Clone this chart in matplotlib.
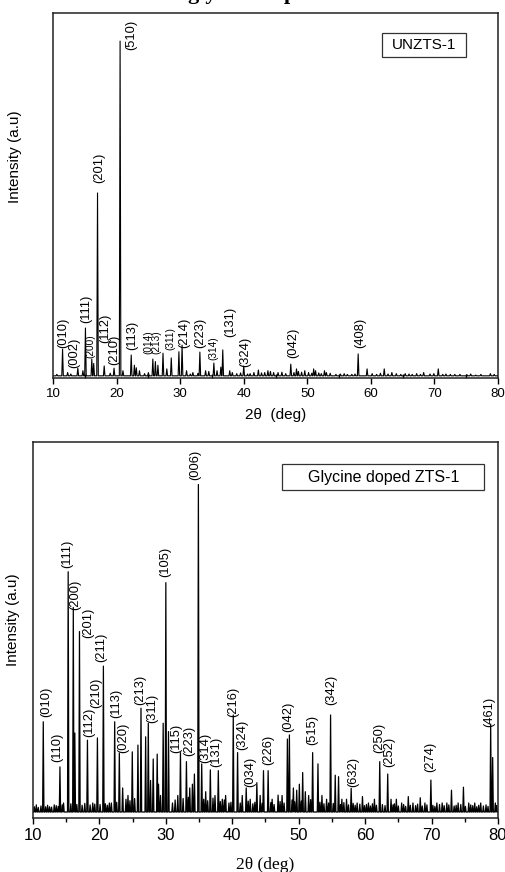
import numpy as np
import matplotlib.pyplot as plt
from matplotlib.patches import Rectangle

plt.rcParams['font.family'] = ['Liberation Sans', 'DejaVu Sans']

# ---- UNZTS-1 pattern: strong reflections (2theta, rel. intensity)
unzts_pos = [11.5, 13.9, 15.1, 16.1, 16.4, 17.0, 18.05, 19.6, 20.55, 22.3,
             22.8, 23.1, 25.7, 26.1, 26.5, 27.3, 27.9, 28.6, 29.8, 30.3,
             33.1, 35.3, 36.4, 36.7, 40.0, 47.4, 48.3, 58.0]
unzts_int = [7.9, 2.7, 13.7, 5.2, 4.0, 50.7, 3.3, 2.7, 92.3, 6.3,
             3.5, 2.8, 5.2, 4.5, 3.5, 6.8, 2.5, 5.5, 7.2, 9.0,
             7.1, 4.1, 3.0, 7.7, 3.3, 3.8, 2.5, 6.6]
# weak reflections and baseline ripple
unzts_minor_pos = [12.3, 14.7, 21.0, 23.6, 25.0, 31.0, 32.0, 34.0, 34.5, 35.8,
                   37.8, 38.2, 41.0, 42.3, 43.3, 43.8, 44.2, 44.7, 45.4, 48.6,
                   49.6, 50.2, 51.0, 51.3, 52.7, 53.0, 54.5, 56.3, 59.4, 62.1,
                   63.3, 64.0, 66.5, 67.2, 68.3, 70.6, 72.5, 74.0, 76.5, 78.8,
                   10.6, 12.8, 19.0, 24.4, 31.6, 32.8, 38.9, 39.5, 40.6, 41.6,
                   42.8, 46.0, 46.6, 47.9, 49.1, 50.7, 51.8, 52.2, 53.6, 55.2,
                   55.8, 57.0, 57.5, 60.2, 60.9, 61.5, 62.7, 64.7, 65.4, 66.0,
                   67.8, 69.3, 69.9, 71.3, 71.8, 73.2, 75.1, 75.7, 77.3, 79.4]
unzts_minor_int = [1.5, 2.0, 2.0, 2.0, 1.5, 2.0, 1.5, 2.0, 1.8, 2.0,
                   2.0, 1.5, 1.2, 2.2, 1.5, 2.0, 1.8, 1.5, 1.5, 1.8,
                   2.0, 1.5, 2.5, 2.0, 2.0, 1.5, 1.0, 1.0, 2.5, 2.5,
                   1.5, 1.2, 1.0, 1.2, 1.5, 2.5, 1.0, 1.0, 0.8, 1.2,
                   1.0, 1.1, 1.3, 1.2, 1.1, 1.3, 1.2, 1.4, 1.1, 1.5,
                   1.4, 1.6, 1.2, 1.5, 1.6, 1.3, 1.4, 1.2, 1.3, 1.1,
                   1.2, 1.0, 1.1, 1.2, 1.0, 1.3, 1.1, 1.0, 1.2, 1.1,
                   1.0, 1.1, 1.2, 1.0, 1.1, 1.0, 0.9, 1.1, 1.0, 1.0]
unzts_base = 0.6

unzts_hkl = ['(010)', '(002)', '(111)', '(200)', '(201)', '(112)', '(210)', '(510)',
             '(113)', '(014)', '(213)', '(311)', '(214)', '(223)', '(314)', '(131)',
             '(324)', '(042)', '(408)']
unzts_hkl_x = [11.6, 13.35, 15.3, 15.8, 17.3, 18.2, 19.6, 22.3,
               22.4, 24.95, 26.3, 28.45, 30.6, 33.2, 35.3, 37.8,
               40.2, 47.8, 58.3]
unzts_hkl_y = [8.2, 2.7, 15.0, 5.5, 53.4, 9.6, 3.6, 89.9,
               7.7, 6.5, 6.5, 7.7, 8.2, 8.2, 4.9, 11.2,
               3.0, 5.5, 8.2]
unzts_hkl_small = ['(200)', '(014)', '(213)', '(311)', '(314)']

# ---- Glycine doped ZTS-1 pattern
gzts_pos = [11.55, 14.06, 15.3, 16.07, 16.3, 17.0, 18.2, 19.7, 20.6, 22.3,
            23.0, 24.95, 25.8, 26.26, 26.96, 27.36, 28.1, 28.7, 29.6, 30.0,
            30.4, 32.2, 33.1, 34.3, 34.9, 35.4, 36.7, 37.9, 40.15, 40.8,
            42.1, 43.7, 44.7, 45.4, 46.9, 48.3, 48.6, 49.7, 50.6, 52.1,
            52.9, 54.8, 55.5, 56.0, 57.9, 59.6, 62.2, 63.4, 66.5, 68.3,
            69.9, 73.0, 74.8, 78.9, 79.2]
gzts_int = [25.6, 13.6, 65.5, 56.0, 22.6, 49.6, 20.7, 21.3, 40.4, 25.6,
            17.3, 17.6, 19.4, 29.2, 21.6, 25.2, 15.7, 17.0, 25.2, 62.6,
            23.0, 17.4, 15.0, 11.7, 88.7, 14.4, 12.8, 12.6, 27.4, 17.4,
            8.0, 9.4, 12.6, 12.6, 6.1, 21.0, 22.1, 7.4, 12.1, 17.4,
            14.4, 27.4, 11.4, 11.0, 7.9, 5.7, 15.0, 11.7, 5.7, 5.4,
            10.1, 7.4, 8.2, 25.0, 16.1]
gzts_minor_pos = [10.5, 12.5, 13.2, 14.6, 19.0, 21.5, 23.5, 24.3, 27.7, 28.9,
                  31.0, 31.8, 33.6, 34.0, 36.0, 37.4, 38.5, 39.0, 39.5, 41.5,
                  42.7, 44.2, 46.0, 47.5, 49.2, 50.1, 51.0, 51.5, 53.5, 54.2,
                  56.5, 57.2, 58.8, 60.5, 61.4, 63.9, 64.7, 65.5, 67.2, 69.0,
                  70.8, 71.6, 72.3, 74.0, 75.6, 76.5, 77.4, 79.6,
                  10.2, 10.8, 11.2, 11.9, 12.2, 12.8, 13.5, 13.8, 14.4, 15.7,
                  16.6, 17.4, 17.8, 18.6, 19.3, 20.1, 20.9, 21.2, 21.8, 22.6,
                  24.0, 24.6, 25.3, 29.2, 31.4, 32.6, 33.4, 35.7, 36.3, 37.1,
                  38.2, 38.8, 39.8, 41.2, 42.4, 43.1, 43.4, 44.5, 45.8, 46.3,
                  47.2, 47.8, 49.0, 49.4, 50.4, 51.8, 53.2, 53.8, 54.5, 55.2,
                  56.3, 56.8, 57.5, 58.2, 58.5, 59.2, 59.9, 60.2, 60.8, 61.1,
                  61.7, 62.6, 63.0, 64.2, 64.4, 65.0, 65.8, 66.1, 66.8, 67.6,
                  67.9, 68.6, 69.3, 70.2, 70.5, 71.2, 71.9, 72.6, 73.4, 73.7,
                  74.4, 75.1, 75.9, 76.2, 76.8, 77.1, 77.8, 78.2, 78.5, 79.8]
gzts_minor_int = [3.5, 3.0, 3.5, 4.0, 4.0, 4.0, 8.0, 6.0, 10.0, 9.0,
                  4.0, 6.0, 8.0, 9.0, 7.0, 6.0, 5.0, 6.0, 4.0, 6.0,
                  5.0, 6.0, 5.0, 6.0, 8.0, 9.0, 7.0, 6.0, 6.0, 5.0,
                  5.0, 5.0, 4.0, 4.0, 5.0, 5.0, 5.0, 4.0, 4.0, 4.0,
                  4.0, 4.0, 4.0, 4.0, 4.0, 4.0, 4.0, 4.0,
                  3.0, 2.8, 3.2, 3.0, 3.4, 2.9, 3.3, 3.1, 3.5, 3.8,
                  3.6, 3.4, 3.9, 3.5, 3.7, 3.6, 3.8, 3.4, 4.0, 4.2,
                  5.0, 4.6, 5.2, 6.0, 4.8, 5.2, 5.5, 5.0, 4.6, 5.3,
                  4.4, 4.8, 4.2, 4.0, 4.5, 3.8, 4.2, 3.9, 4.1, 3.6,
                  4.4, 4.0, 4.8, 4.3, 4.5, 4.9, 4.2, 3.8, 4.0, 3.9,
                  3.6, 4.1, 3.5, 3.9, 3.4, 3.7, 3.3, 3.6, 3.2, 3.8,
                  3.4, 3.6, 3.3, 3.5, 3.8, 3.2, 3.6, 3.1, 3.4, 3.3,
                  3.7, 3.2, 3.5, 3.4, 3.1, 3.6, 3.3, 3.5, 3.2, 3.4,
                  3.6, 3.1, 3.5, 3.3, 3.0, 3.4, 3.2, 3.5, 3.1, 3.3]
gzts_base = 1.6

gzts_hkl = ['(010)', '(110)', '(111)', '(200)', '(201)', '(112)', '(210)', '(211)',
            '(113)', '(020)', '(213)', '(311)', '(105)', '(006)', '(115)', '(223)',
            '(314)', '(131)', '(216)', '(324)', '(034)', '(226)', '(042)', '(515)',
            '(342)', '(632)', '(250)', '(252)', '(274)', '(461)']
gzts_hkl_x = [11.96, 13.6, 15.1, 16.3, 18.3, 18.45, 19.5, 20.3,
              22.6, 23.6, 26.1, 27.9, 29.9, 34.4, 31.6, 33.6,
              35.9, 37.6, 40.2, 41.5, 42.7, 45.4, 48.4, 52.0,
              54.9, 58.2, 62.2, 63.6, 69.8, 78.7]
gzts_hkl_y = [26.9, 15.0, 66.5, 55.3, 47.9, 21.6, 29.2, 41.6,
              26.6, 17.3, 30.1, 25.2, 64.2, 89.9, 17.3, 16.5,
              14.6, 13.6, 26.9, 18.1, 8.3, 14.1, 23.0, 19.4,
              30.1, 8.3, 17.3, 13.6, 12.3, 24.3]


def trace(pos, inten, base, hw=0.12):
    # joins every reflection to the baseline with a narrow triangular profile
    pos = np.asarray(pos)
    inten = np.asarray(inten)
    xs, ys = [10.0], [base]
    for i in np.argsort(pos):
        xs += [pos[i] - hw, pos[i], pos[i] + hw]
        ys += [base, inten[i], base]
    xs.append(80.0)
    ys.append(base)
    return xs, ys


def style_axes(ax, minor_in):
    ax.set_xlim(10, 80)
    ax.set_ylim(0, 100)
    ax.set_yticks([])
    ax.set_xticks(range(10, 81, 10))
    ax.set_xticks(range(15, 80, 10), minor=True)
    ax.tick_params(axis='x', which='major', direction='out', length=4, width=1)
    ax.tick_params(axis='x', which='minor', direction='in' if minor_in else 'out',
                   length=3, width=1)
    for s in ax.spines.values():
        s.set_linewidth(1.1)
        s.set_color('#222222')


fig = plt.figure(figsize=(5.05, 8.72), dpi=100)

# heading runs off the top of the page, only its descenders remain
fig.text(0.372, 1 + 0.5 / 872, 'glycine doped ZTS', ha='left', va='baseline',
         family=['Liberation Serif'], fontweight='bold', fontsize=16)

# top panel
ax1 = fig.add_axes([0.1050, 0.5665, 0.8812, 0.4186])
x, y = trace(unzts_pos + unzts_minor_pos, unzts_int + unzts_minor_int, unzts_base)
ax1.plot(x, y, color='black', lw=0.8)
style_axes(ax1, True)
ax1.tick_params(axis='x', labelsize=9.5, pad=3)
for lab, lx, ly in zip(unzts_hkl, unzts_hkl_x, unzts_hkl_y):
    fs = 7.2 if lab in unzts_hkl_small else 9.3
    ax1.text(lx, ly, lab, rotation=90, ha='center', va='bottom', fontsize=fs)
ax1.set_xlabel('2θ  (deg)', fontsize=11, labelpad=6)
ax1.text(-0.085, 0.605, 'Intensity (a.u)', rotation=90, ha='center', va='center',
         fontsize=11, transform=ax1.transAxes)
ax1.add_patch(Rectangle((0.7387, 0.879), 0.1893, 0.066, transform=ax1.transAxes,
                        fill=False, lw=0.9, edgecolor='#333333'))
ax1.text(0.8335, 0.912, 'UNZTS-1', ha='center', va='center', fontsize=11,
         transform=ax1.transAxes)

# bottom panel
ax2 = fig.add_axes([0.0653, 0.0619, 0.9208, 0.4312])
x, y = trace(gzts_pos + gzts_minor_pos, gzts_int + gzts_minor_int, gzts_base, hw=0.1)
ax2.plot(x, y, color='black', lw=0.9)
style_axes(ax2, False)
ax2.tick_params(axis='x', labelsize=12, pad=3)
for lab, lx, ly in zip(gzts_hkl, gzts_hkl_x, gzts_hkl_y):
    ax2.text(lx, ly, lab, rotation=90, ha='center', va='bottom', fontsize=9.3)
ax2.set_xlabel('2θ (deg)', family=['Liberation Serif'], fontsize=12.5, labelpad=10)
ax2.text(-0.043, 0.527, 'Intensity (a.u)', rotation=90, ha='center', va='center',
         fontsize=11, transform=ax2.transAxes)
ax2.add_patch(Rectangle((0.536, 0.872), 0.4346, 0.0687, transform=ax2.transAxes,
                        fill=False, lw=0.9, edgecolor='#333333'))
ax2.text(0.7533, 0.9065, 'Glycine doped ZTS-1', ha='center', va='center',
         fontsize=11.5, transform=ax2.transAxes)

fig.savefig('out.png', dpi=100)
